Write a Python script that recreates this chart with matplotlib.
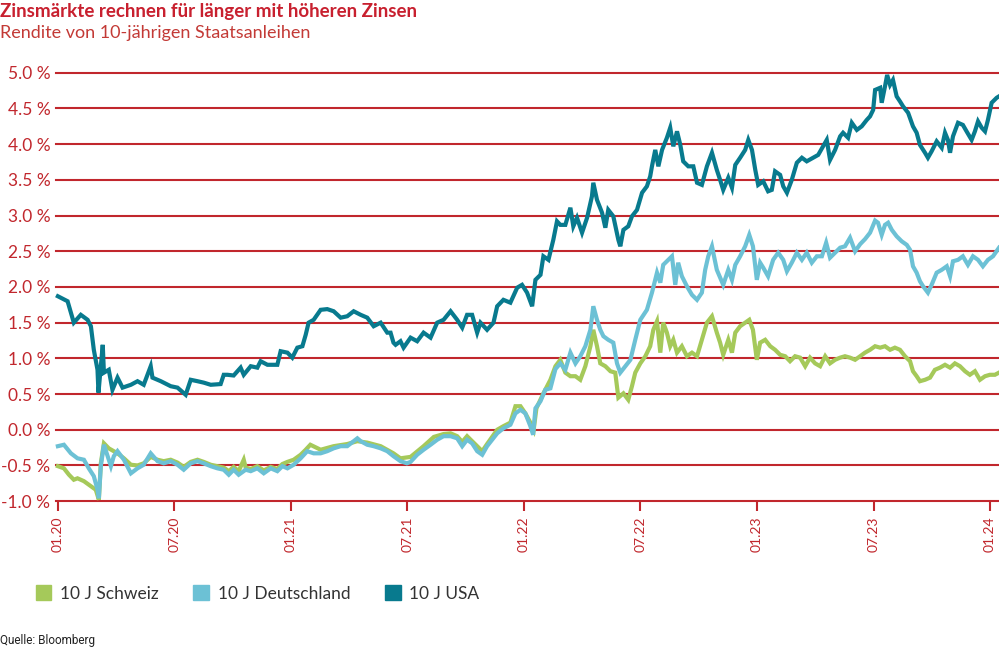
import matplotlib
matplotlib.use("Agg")
import matplotlib.pyplot as plt
from matplotlib.patches import Patch

# Monate seit 01.2020 und Rendite in %
usa_m = [0.0, 0.5, 0.82, 1.18, 1.53, 1.70, 1.85, 2.04, 2.09, 2.21, 2.31, 2.37, 2.62, 2.81, 3.07, 3.33,
         3.76, 4.10, 4.42, 4.78, 4.87, 5.30, 5.81, 6.16, 6.58, 6.84, 7.19, 7.51, 7.87, 8.38, 8.54, 8.73,
         9.05, 9.41, 9.57, 9.93, 10.27, 10.44, 10.79, 11.30, 11.47, 11.82, 12.07, 12.33, 12.59, 12.76,
         12.91, 13.17, 13.53, 13.87, 14.20, 14.56, 14.90, 15.23, 15.59, 15.93, 16.26, 16.62, 16.96,
         17.13, 17.28, 17.39, 17.64, 17.80, 18.16, 18.50, 18.83, 19.19, 19.53, 19.86, 20.22, 20.56,
         20.82, 21.07, 21.33, 21.59, 21.76, 22.10, 22.43, 22.62, 22.94, 23.30, 23.65, 23.90, 24.16,
         24.42, 24.59, 24.85, 25.00, 25.26, 25.51, 25.70, 25.87, 26.13, 26.39, 26.54, 26.73, 26.99,
         27.25, 27.50, 27.57, 27.76, 28.02, 28.19, 28.34, 28.60, 28.86, 28.96, 29.12, 29.37, 29.56,
         29.82, 30.08, 30.33, 30.50, 30.59, 30.76, 30.92, 31.11, 31.36, 31.53, 31.69, 31.88, 32.05,
         32.20, 32.46, 32.72, 32.91, 33.16, 33.42, 33.68, 33.93, 34.10, 34.26, 34.52, 34.71, 34.88,
         35.13, 35.39, 35.55, 35.74, 35.91, 36.06, 36.32, 36.57, 36.76, 36.93, 37.19, 37.35, 37.54,
         37.79, 38.05, 38.31, 38.56, 38.89, 39.15, 39.40, 39.59, 39.76, 40.02, 40.28, 40.43, 40.69,
         40.88, 41.14, 41.39, 41.65, 41.82, 41.98, 42.08, 42.34, 42.42, 42.59, 42.70, 42.85, 43.00,
         43.19, 43.36, 43.52, 43.78, 44.03, 44.22, 44.39, 44.65, 44.80, 44.99, 45.25, 45.51, 45.68,
         45.83, 45.94, 46.09, 46.35, 46.60, 46.79, 47.05, 47.22, 47.38, 47.57, 47.74, 47.89, 48.08,
         48.34, 48.46]
usa_v = [1.87, 1.80, 1.50, 1.61, 1.54, 1.45, 1.12, 0.84, 0.52, 0.89, 1.19, 0.80, 0.84, 0.56, 0.73, 0.59,
         0.63, 0.68, 0.63, 0.89, 0.73, 0.68, 0.61, 0.59, 0.49, 0.70, 0.68, 0.66, 0.63, 0.64, 0.77, 0.77,
         0.76, 0.87, 0.77, 0.89, 0.87, 0.96, 0.91, 0.91, 1.10, 1.08, 1.01, 1.15, 1.17, 1.33,
         1.50, 1.54, 1.68, 1.69, 1.66, 1.57, 1.59, 1.66, 1.61, 1.57, 1.45, 1.50, 1.36,
         1.36, 1.22, 1.19, 1.24, 1.15, 1.29, 1.24, 1.36, 1.29, 1.50, 1.54, 1.66, 1.54,
         1.43, 1.61, 1.61, 1.36, 1.50, 1.40, 1.50, 1.73, 1.82, 1.78, 1.99, 2.03, 1.92,
         1.73, 2.10, 2.17, 2.43, 2.38, 2.66, 2.92, 2.87, 2.87, 3.11, 2.85, 2.97, 2.76,
         2.97, 3.27, 3.46, 3.22, 3.04, 2.83, 3.08, 2.99, 2.66, 2.57, 2.80, 2.85, 2.99,
         3.08, 3.32, 3.41, 3.55, 3.69, 3.92, 3.69, 3.92, 4.09, 4.23, 3.97, 4.18, 3.99,
         3.76, 3.69, 3.69, 3.46, 3.43, 3.69, 3.88, 3.64, 3.50, 3.36, 3.53, 3.39, 3.71,
         3.81, 3.92, 4.06, 3.92, 3.64, 3.43, 3.48, 3.34, 3.36, 3.62, 3.57, 3.41, 3.32,
         3.50, 3.74, 3.81, 3.76, 3.81, 3.85, 3.97, 4.06, 3.78, 3.92, 4.11, 4.16, 4.09,
         4.30, 4.20, 4.25, 4.34, 4.39, 4.48, 4.76, 4.79, 4.58, 4.81, 4.97, 4.83, 4.90,
         4.67, 4.60, 4.53, 4.44, 4.25, 4.16, 3.99, 3.88, 3.81, 3.90, 4.04, 3.95, 4.16,
         4.06, 3.88, 4.11, 4.30, 4.27, 4.18, 4.06, 4.18, 4.32, 4.23, 4.18, 4.34, 4.58,
         4.65, 4.67]

de_m = [0.0, 0.31, 0.67, 1.01, 1.34, 1.59, 1.85, 2.04, 2.11, 2.21, 2.37, 2.56, 2.73, 2.88, 3.07, 3.40,
        3.76, 4.10, 4.42, 4.78, 5.13, 5.45, 5.81, 6.16, 6.48, 6.84, 7.19, 7.51, 7.87, 8.21, 8.54, 8.80,
        9.05, 9.31, 9.67, 9.93, 10.27, 10.60, 10.96, 11.30, 11.56, 11.82, 12.14, 12.50, 12.84, 13.17,
        13.53, 13.87, 14.20, 14.56, 14.90, 15.23, 15.42, 15.59, 15.93, 16.26, 16.62, 16.96, 17.28,
        17.64, 17.97, 18.16, 18.50, 18.83, 19.19, 19.53, 19.86, 20.22, 20.56, 20.82, 21.07, 21.33,
        21.59, 21.85, 22.10, 22.36, 22.62, 22.94, 23.30, 23.56, 23.82, 24.07, 24.33, 24.47, 24.59,
        24.85, 25.10, 25.36, 25.62, 25.87, 26.13, 26.39, 26.65, 26.90, 27.16, 27.42, 27.57, 27.76,
        27.93, 28.09, 28.34, 28.60, 28.79, 28.96, 29.22, 29.48, 29.73, 29.99, 30.33, 30.59, 30.85,
        31.02, 31.17, 31.43, 31.62, 31.79, 31.94, 32.13, 32.39, 32.65, 32.91, 33.16, 33.33, 33.49,
        33.68, 33.93, 34.10, 34.26, 34.52, 34.71, 34.88, 35.13, 35.39, 35.60, 35.79, 35.99, 36.16,
        36.32, 36.57, 36.83, 37.09, 37.35, 37.54, 37.79, 38.05, 38.31, 38.56, 38.82, 39.08, 39.34,
        39.56, 39.76, 40.02, 40.28, 40.53, 40.79, 41.05, 41.31, 41.56, 41.82, 42.08, 42.23, 42.42,
        42.59, 42.75, 42.94, 43.19, 43.45, 43.71, 43.88, 44.03, 44.22, 44.39, 44.55, 44.80, 44.99,
        45.25, 45.51, 45.77, 45.94, 46.09, 46.35, 46.60, 46.86, 47.12, 47.38, 47.63, 47.89, 48.15,
        48.46]
de_v = [-0.23, -0.21, -0.33, -0.40, -0.42, -0.54, -0.65, -0.84, -0.96, -0.51, -0.21, -0.37, -0.51, -0.37,
        -0.30, -0.42, -0.61, -0.54, -0.49, -0.33, -0.44, -0.47, -0.44, -0.49, -0.56, -0.47, -0.44, -0.47,
        -0.51, -0.54, -0.56, -0.63, -0.56, -0.63, -0.56, -0.58, -0.54, -0.61, -0.54, -0.58, -0.51, -0.54,
        -0.49, -0.40, -0.30, -0.33, -0.33, -0.30, -0.26, -0.23, -0.23, -0.16, -0.12, -0.16, -0.21, -0.23,
        -0.26, -0.30, -0.37, -0.44, -0.47, -0.45, -0.35, -0.28, -0.21, -0.14, -0.09, -0.09, -0.12, -0.23,
        -0.14, -0.19, -0.30, -0.35, -0.23, -0.14, -0.05, 0.02, 0.07, 0.23, 0.28, 0.23, 0.05, -0.07, 0.30,
        0.40, 0.56, 0.58, 0.85, 0.93, 0.84, 1.08, 0.93, 1.03, 1.17, 1.40, 1.73, 1.54,
        1.40, 1.31, 1.26, 1.22, 0.93, 0.80, 0.89, 0.98, 1.26, 1.54, 1.68, 1.92, 2.20,
        2.06, 2.31, 2.38, 2.43, 2.03, 2.34, 2.15, 2.01, 1.89, 1.82, 1.92, 2.24, 2.43,
        2.57, 2.24, 2.13, 2.03, 2.24, 2.10, 2.31, 2.43, 2.57, 2.73, 2.57, 2.10, 2.34,
        2.27, 2.15, 2.38, 2.48, 2.38, 2.22, 2.34, 2.48, 2.38, 2.48, 2.34, 2.43, 2.43,
        2.62, 2.41, 2.48, 2.55, 2.57, 2.69, 2.50, 2.60, 2.67, 2.76, 2.93, 2.90, 2.73,
        2.87, 2.90, 2.80, 2.71, 2.64, 2.59, 2.52, 2.29, 2.20, 2.08, 2.01, 1.92, 2.03,
        2.20, 2.24, 2.29, 2.15, 2.36, 2.38, 2.43, 2.31, 2.43, 2.38, 2.29, 2.38, 2.43,
        2.55]

ch_m = [0.0, 0.31, 0.57, 0.82, 1.01, 1.34, 1.70, 1.95, 2.11, 2.21, 2.37, 2.62, 2.88, 3.07, 3.40, 3.76,
        4.10, 4.42, 4.78, 5.13, 5.45, 5.81, 6.16, 6.48, 6.84, 7.19, 7.51, 7.87, 8.21, 8.54, 8.80, 9.05,
        9.31, 9.57, 9.67, 9.93, 10.27, 10.60, 10.96, 11.30, 11.56, 11.82, 12.14, 12.50, 12.76, 13.00,
        13.53, 14.20, 14.90, 15.42, 15.93, 16.62, 17.28, 17.64, 18.16, 18.83, 19.36, 19.86, 20.22,
        20.56, 20.82, 21.07, 21.59, 21.85, 22.10, 22.62, 22.94, 23.30, 23.56, 23.82, 24.07, 24.33,
        24.50, 24.64, 25.00, 25.36, 25.62, 25.87, 26.13, 26.39, 26.65, 26.90, 27.16, 27.42, 27.57,
        27.76, 27.93, 28.19, 28.45, 28.70, 28.86, 29.12, 29.37, 29.56, 29.73, 29.99, 30.25, 30.50,
        30.66, 30.85, 31.02, 31.17, 31.36, 31.53, 31.69, 31.88, 32.13, 32.39, 32.65, 32.91, 33.16,
        33.42, 33.68, 33.93, 34.10, 34.26, 34.52, 34.71, 34.88, 35.13, 35.39, 35.60, 35.79, 35.99,
        36.16, 36.42, 36.68, 36.93, 37.19, 37.45, 37.70, 37.96, 38.22, 38.48, 38.73, 38.99, 39.25,
        39.51, 39.76, 40.02, 40.28, 40.53, 40.79, 41.05, 41.31, 41.56, 41.82, 42.08, 42.34, 42.59,
        42.85, 43.10, 43.36, 43.62, 43.88, 44.03, 44.22, 44.39, 44.65, 44.91, 45.16, 45.42, 45.68,
        45.94, 46.19, 46.45, 46.71, 46.96, 47.22, 47.48, 47.74, 47.99, 48.25, 48.46]
ch_v = [-0.51, -0.54, -0.63, -0.70, -0.68, -0.72, -0.79, -0.84, -0.98, -0.47, -0.19, -0.26, -0.30, -0.33,
        -0.40, -0.49, -0.50, -0.47, -0.38, -0.42, -0.44, -0.42, -0.46, -0.52, -0.45, -0.42, -0.45, -0.49,
        -0.51, -0.53, -0.58, -0.52, -0.58, -0.42, -0.53, -0.55, -0.51, -0.57, -0.52, -0.55, -0.48, -0.45,
        -0.42, -0.35, -0.28, -0.21, -0.28, -0.23, -0.20, -0.16, -0.18, -0.23, -0.33, -0.40, -0.38, -0.23,
        -0.10, -0.06, -0.05, -0.09, -0.17, -0.09, -0.23, -0.30, -0.20, 0.0, 0.05, 0.10, 0.33, 0.33, 0.23,
        0.10, 0.0, 0.30, 0.51, 0.70, 0.89, 0.98, 0.80, 0.75, 0.75, 0.70, 0.89, 1.17, 1.40,
        1.17, 0.93, 0.89, 0.82, 0.80, 0.45, 0.51, 0.42, 0.61, 0.80, 0.93, 1.03, 1.17,
        1.40, 1.52, 1.08, 1.50, 1.36, 1.17, 1.26, 1.08, 1.17, 1.03, 1.08, 1.03, 1.26,
        1.50, 1.59, 1.36, 1.22, 1.05, 1.26, 1.08, 1.36, 1.45, 1.50, 1.54, 1.40, 0.98,
        1.22, 1.26, 1.17, 1.12, 1.05, 1.03, 0.96, 1.03, 1.01, 0.89, 1.01, 0.93, 0.89,
        1.03, 0.93, 0.98, 1.01, 1.03, 1.01, 0.98, 1.03, 1.08, 1.12, 1.17, 1.15, 1.17,
        1.12, 1.15, 1.12, 1.03, 0.96, 0.82, 0.75, 0.68, 0.70, 0.73, 0.84, 0.87, 0.91,
        0.87, 0.93, 0.89, 0.82, 0.77, 0.82, 0.70, 0.75, 0.77, 0.77, 0.80]

tick_pos = [0, 6, 12, 18, 24, 30, 36, 42, 48]
tick_labels = ["01.20", "07.20", "01.21", "07.21", "01.22", "07.22", "01.23", "07.23", "01.24"]
y_ticks = [-1.0, -0.5, 0.0, 0.5, 1.0, 1.5, 2.0, 2.5, 3.0, 3.5, 4.0, 4.5, 5.0]
y_labels = ["-1.0 %", "-0.5 %", "0.0 %", "0.5 %", "1.0 %", "1.5 %", "2.0 %", "2.5 %",
            "3.0 %", "3.5 %", "4.0 %", "4.5 %", "5.0 %"]

rot = "#c1272d"
c_ch = "#a5c95a"
c_de = "#6cc1d5"
c_us = "#087a8e"

plt.rcParams["font.family"] = ["Lato", "DejaVu Sans"]

fig = plt.figure(figsize=(9.99, 6.5), dpi=100)
ax = fig.add_axes([0.056, 0.229, 0.944, 0.659])

for y in y_ticks[1:]:
    ax.axhline(y, color=rot, lw=1.5, zorder=1, clip_on=False)

ax.plot(ch_m, ch_v, color=c_ch, lw=3, zorder=3, clip_on=False, solid_joinstyle="miter")
ax.plot(de_m, de_v, color=c_de, lw=3, zorder=4, clip_on=False, solid_joinstyle="miter")
ax.plot(usa_m, usa_v, color=c_us, lw=3, zorder=5, clip_on=False, solid_joinstyle="miter")

ax.set_xlim(-0.1, 48.46)
ax.set_ylim(-1.0, 5.0)
for s in ["top", "right", "left"]:
    ax.spines[s].set_visible(False)
ax.spines["bottom"].set_color(rot)
ax.spines["bottom"].set_linewidth(1.5)

ax.set_xticks(tick_pos)
ax.set_xticklabels(tick_labels, rotation=90, color=rot, fontsize=10)
ax.tick_params(axis="x", direction="out", length=7, width=1.5, color=rot, pad=4)
ax.set_yticks(y_ticks)
ax.set_yticklabels(y_labels, color=rot, fontsize=12.5)
ax.tick_params(axis="y", length=0, pad=4)

fig.text(0.0, 0.983, "Zinsmärkte rechnen für länger mit höheren Zinsen", color="#c8202f",
         fontsize=13.5, fontweight="bold", va="center", ha="left")
fig.text(0.0, 0.949, "Rendite von 10-jährigen Staatsanleihen", color="#c33a36",
         fontsize=13, va="center", ha="left")

handles = [Patch(color=c_ch), Patch(color=c_de), Patch(color=c_us)]
fig.legend(handles, ["10 J Schweiz", "10 J Deutschland", "10 J USA"], loc="center left",
           bbox_to_anchor=(0.02, 0.087), ncol=3, frameon=False, fontsize=12.5,
           handlelength=0.9, handleheight=0.9, handletextpad=0.5, columnspacing=2.0,
           labelcolor="#333333")

fig.text(0.0, 0.015, "Quelle: Bloomberg", fontsize=8.5, color="#222222",
         family=["Roboto", "DejaVu Sans"], va="center", ha="left")

fig.savefig("out.png", dpi=100)
